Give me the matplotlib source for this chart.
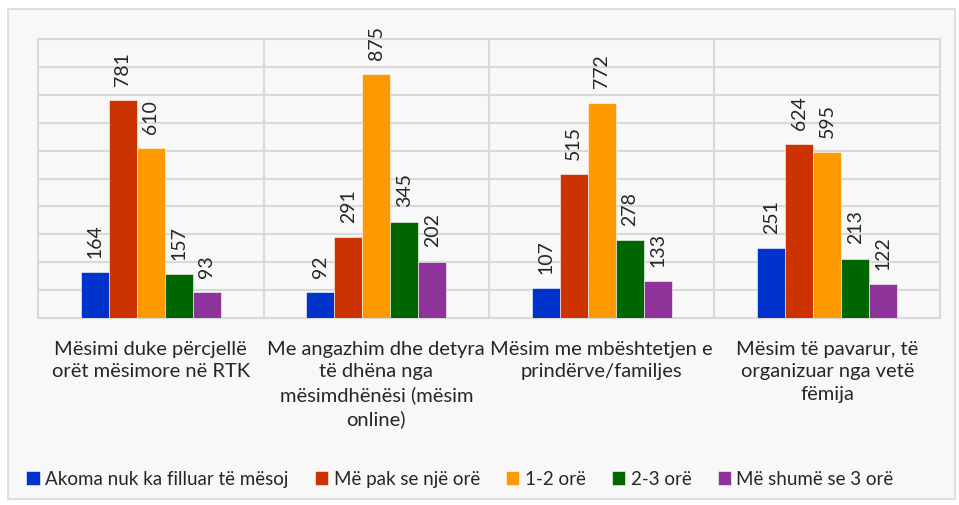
import matplotlib.pyplot as plt
import numpy as np
from matplotlib.patches import Rectangle

categories = ["Mësimi duke përcjellë\norët mësimore në RTK",
              "Me angazhim dhe detyra\ntë dhëna nga\nmësimdhënësi (mësim\nonline)",
              "Mësim me mbështetjen e\nprindërve/familjes",
              "Mësim të pavarur, të\norganizuar nga vetë\nfëmija"]
series = ["Akoma nuk ka filluar të mësoj", "Më pak se një orë", "1-2 orë",
          "2-3 orë", "Më shumë se 3 orë"]
not_started = [164, 92, 107, 251]
less_1h = [781, 291, 515, 624]
h1_2 = [610, 875, 772, 595]
h2_3 = [157, 345, 278, 213]
more_3h = [93, 202, 133, 122]
values = [not_started, less_1h, h1_2, h2_3, more_3h]
colors = ["#0033CC", "#CC3300", "#FF9900", "#006600", "#8E3399"]

plt.rcParams['font.family'] = ['Lato', 'DejaVu Sans']
txt = "#262626"

fig = plt.figure(figsize=(9.59, 5.06), dpi=100)
fig.patch.set_facecolor("white")
fig.patches.append(Rectangle((8 / 959, 6 / 506), 947 / 959, 490 / 506,
                             transform=fig.transFigure, facecolor="#F8F8F8",
                             edgecolor="#D9D9D9", lw=1.2, zorder=-10))

ax = fig.add_axes([38 / 959, (506 - 319) / 506, 902 / 959, 279 / 506])
ax.set_facecolor("#F8F8F8")

x = np.arange(len(categories))
w = 0.124
for i, (name, vals, c) in enumerate(zip(series, values, colors)):
    pos = x + (i - 2) * w
    ax.bar(pos, vals, w, color=c, edgecolor="white", linewidth=0.4,
           label=name, zorder=3)
    for px, v in zip(pos, vals):
        ax.annotate(str(v), (px, v), xytext=(0, 11), textcoords="offset points",
                    rotation=90, ha="center", va="bottom", fontsize=14,
                    color=txt)

ax.set_xlim(-0.5, len(categories) - 0.5)
ax.set_ylim(0, 1000)
ax.set_yticks(np.arange(0, 1001, 100))
ax.yaxis.grid(True, color="#D9D9D9", lw=1.5, zorder=0)
for b in np.arange(0.5, len(categories) - 0.5, 1):
    ax.axvline(b, color="#D9D9D9", lw=1.5, zorder=0)
ax.tick_params(axis="y", left=False, labelleft=False)
ax.tick_params(axis="x", bottom=False, pad=12)
ax.set_xticks(x)
ax.set_xticklabels(categories, fontsize=14.5, color=txt, va="top",
                   linespacing=1.4, multialignment="center")
for s in ax.spines.values():
    s.set_color("#D9D9D9")
    s.set_linewidth(1.5)

fig.legend(loc="center", bbox_to_anchor=(460 / 959, 1 - 480 / 506), ncol=5,
           frameon=False, fontsize=13.5, handlelength=0.7, handleheight=0.7,
           handletextpad=0.3, columnspacing=1.4, labelcolor=txt)

fig.savefig("out.png", dpi=100)
